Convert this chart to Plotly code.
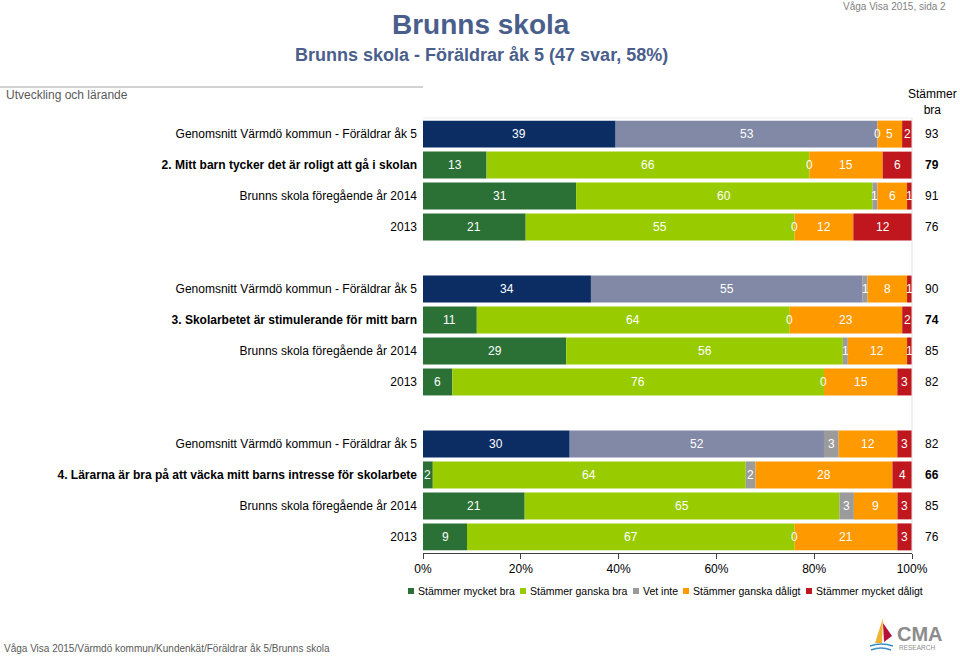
import plotly.graph_objects as go

# ---------------- data ----------------
categories = ["Stämmer mycket bra", "Stämmer ganska bra", "Vet inte",
              "Stämmer ganska dåligt", "Stämmer mycket dåligt"]
row_labels = [
    "Genomsnitt Värmdö kommun - Föräldrar åk 5",
    "2. Mitt barn tycker det är roligt att gå i skolan",
    "Brunns skola föregående år 2014",
    "2013",
    "Genomsnitt Värmdö kommun - Föräldrar åk 5",
    "3. Skolarbetet är stimulerande för mitt barn",
    "Brunns skola föregående år 2014",
    "2013",
    "Genomsnitt Värmdö kommun - Föräldrar åk 5",
    "4. Lärarna är bra på att väcka mitt barns intresse för skolarbete",
    "Brunns skola föregående år 2014",
    "2013",
]
row_kind = ["avg", "q", "prev", "old"] * 3
mycket_bra = [39, 13, 31, 21, 34, 11, 29, 6, 30, 2, 21, 9]
ganska_bra = [53, 66, 60, 55, 55, 64, 56, 76, 52, 64, 65, 67]
vet_inte = [0, 0, 1, 0, 1, 0, 1, 0, 3, 2, 3, 0]
ganska_daligt = [5, 15, 6, 12, 8, 23, 12, 15, 12, 28, 9, 21]
mycket_daligt = [2, 6, 1, 12, 1, 2, 1, 3, 3, 4, 3, 3]
stammer_bra = [93, 79, 91, 76, 90, 74, 85, 82, 82, 66, 85, 76]
x_ticks = [0, 20, 40, 60, 80, 100]

series = [mycket_bra, ganska_bra, vet_inte, ganska_daligt, mycket_daligt]
colors = ["#2B7035", "#99CC00", "#9B9B9B", "#FF9900", "#C0161D"]
avg_colors = ["#0B2D64", "#8189A6", "#9B9B9B", "#FF9900", "#C0161D"]

FONT = "Liberation Sans, Arial, sans-serif"

# row positions: 3 groups of 4 rows, one empty slot between groups
positions = [g * 5 + i for g in range(3) for i in range(4)]

# plot area in pixels
L, R, T, B = 423, 912, 118, 553
W, H = 960, 657


def px(x):
    return (x - L) / (R - L)


def py(y):
    return (B - y) / (B - T)


def ptext(x, y, text, size, color="black", xanchor="center", **kw):
    return dict(x=px(x), y=py(y), xref="paper", yref="paper", text=text,
                showarrow=False, xanchor=xanchor, yanchor="middle",
                font=dict(size=size, color=color, family=FONT), **kw)


totals = [sum(s[i] for s in series) for i in range(len(row_labels))]

fig = go.Figure()
annotations = []
cum = [0.0] * len(row_labels)
for k, (name, vals) in enumerate(zip(categories, series)):
    widths = [v / t * 100 for v, t in zip(vals, totals)]
    mcolors = [avg_colors[k] if kind == "avg" else colors[k] for kind in row_kind]
    fig.add_trace(go.Bar(
        name=name, y=positions, x=widths, base=cum[:], orientation="h",
        marker=dict(color=mcolors, line=dict(width=0)), width=0.87,
        showlegend=False, hoverinfo="skip",
    ))
    for i, (v, w) in enumerate(zip(vals, widths)):
        annotations.append(dict(
            x=cum[i] + w / 2, y=positions[i], xref="x", yref="y",
            xanchor="center", yanchor="middle",
            text=str(v), showarrow=False,
            font=dict(color="white", size=12, family=FONT),
        ))
        cum[i] += w

# right column "Stämmer bra"
for i, v in enumerate(stammer_bra):
    t = f"<b>{v}</b>" if row_kind[i] == "q" else str(v)
    annotations.append(dict(x=px(932), y=positions[i], xref="paper", yref="y",
                            xanchor="center", yanchor="middle",
                            text=t, showarrow=False,
                            font=dict(size=12, color="black", family=FONT)))
annotations.append(ptext(932, 102, "Stämmer<br>bra", 12))

# titles and header/footer text
annotations += [
    ptext(481, 24, "<b>Brunns skola</b>", 28, "#4A5E8C"),
    ptext(481, 55, "<b>Brunns skola - Föräldrar åk 5 (47 svar, 58%)</b>", 18, "#4A5E8C"),
    ptext(948, 7, "Våga Visa 2015, sida 2", 10, "#7F7F7F", xanchor="right"),
    ptext(4, 95, "Utveckling och lärande", 12, "#595959", xanchor="left"),
    ptext(2, 648, "Våga Visa 2015/Värmdö kommun/Kundenkät/Föräldrar åk 5/Brunns skola",
          10, "#595959", xanchor="left"),
    ptext(895, 634, "<b>CMA</b>", 20, "#8C8C8C", xanchor="left"),
    ptext(897, 647, "RESEARCH", 6.5, "#8C8C8C", xanchor="left"),
]

shapes = [
    # line under title
    dict(type="line", xref="paper", yref="paper", x0=px(0), x1=px(L), y0=py(87), y1=py(87),
         line=dict(color="#A6A6A6", width=1)),
    # light right border of plot area
    dict(type="line", xref="paper", yref="paper", x0=1, x1=1, y0=0, y1=1,
         line=dict(color="#E3E3E3", width=1)),
    dict(type="line", xref="paper", yref="paper", x0=0, x1=1, y0=1, y1=1,
         line=dict(color="#EDEDED", width=1)),
    # logo sails and waves
    dict(type="path", xref="paper", yref="paper",
         path=f"M {px(875)},{py(643)} L {px(883)},{py(618)} L {px(882)},{py(643)} Z",
         fillcolor="#F2B233", line=dict(width=0)),
    dict(type="path", xref="paper", yref="paper",
         path=f"M {px(883)},{py(623)} L {px(892)},{py(636)} L {px(884)},{py(642)} Z",
         fillcolor="#B5123A", line=dict(width=0)),
    dict(type="path", xref="paper", yref="paper",
         path=f"M {px(870)},{py(646)} Q {px(881)},{py(642)} {px(893)},{py(646)}",
         line=dict(color="#3A8FC9", width=1.5)),
    dict(type="path", xref="paper", yref="paper",
         path=f"M {px(871)},{py(650)} Q {px(881)},{py(646)} {px(891)},{py(650)}",
         line=dict(color="#3A8FC9", width=1.5)),
]

# legend (manual, compact like the original)
leg_x = [408, 520, 633, 683, 806]
leg_y = 591
for name, c, xx in zip(categories, colors, leg_x):
    shapes.append(dict(type="rect", xref="paper", yref="paper",
                       x0=px(xx), x1=px(xx + 6), y0=py(leg_y + 3), y1=py(leg_y - 3),
                       fillcolor=c, line=dict(width=0)))
    annotations.append(ptext(xx + 8, leg_y, name, 10.5, xanchor="left"))

ticktext = [f"<b>{lab}</b>" if kind == "q" else lab for lab, kind in zip(row_labels, row_kind)]

fig.update_layout(
    template="none",
    barmode="overlay",
    width=W, height=H,
    margin=dict(l=L, r=W - R, t=T, b=H - B, pad=0),
    paper_bgcolor="white", plot_bgcolor="white",
    font=dict(family=FONT, size=12, color="black"),
    xaxis=dict(range=[0, 100], tickvals=x_ticks, ticktext=[f"{v}%" for v in x_ticks],
               showgrid=False, zeroline=False, showline=True, linecolor="#404040",
               linewidth=1, ticks="outside", ticklen=5, tickcolor="#404040",
               tickfont=dict(size=12, family=FONT), automargin=False, fixedrange=True),
    yaxis=dict(range=[13.52, -0.52], tickvals=positions, ticktext=ticktext,
               showgrid=False, zeroline=False, showline=False, ticks="",
               ticklabelstandoff=5, tickfont=dict(size=12, family=FONT),
               automargin=False, fixedrange=True),
    annotations=annotations,
    shapes=shapes,
    showlegend=False,
)

fig.write_html("out.html")
